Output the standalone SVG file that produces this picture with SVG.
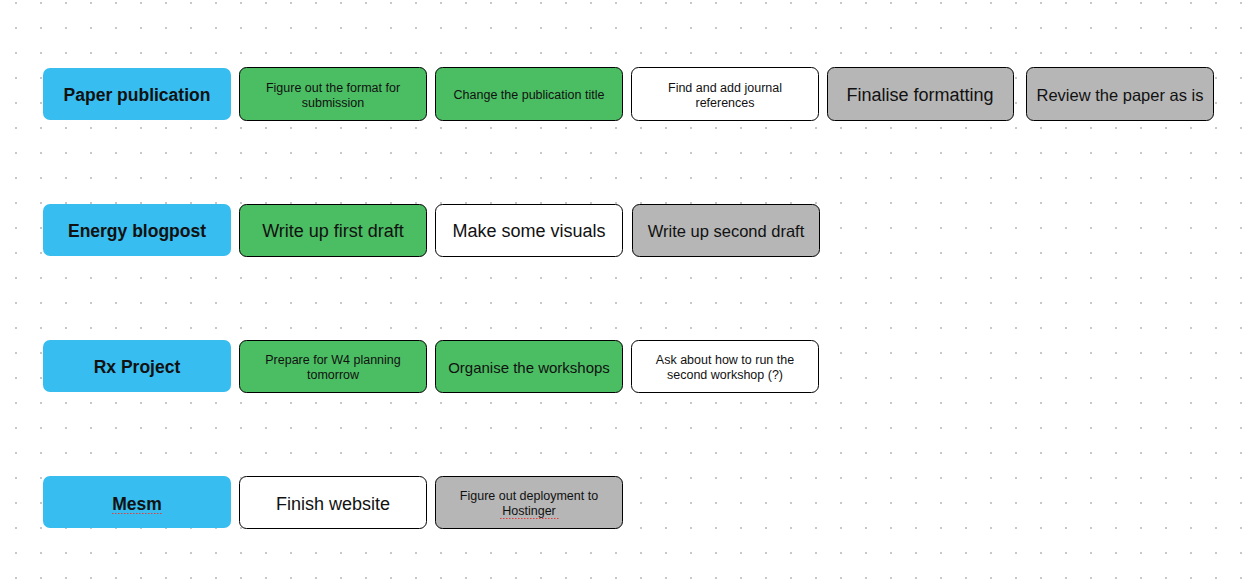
<svg xmlns="http://www.w3.org/2000/svg" width="1253" height="587" viewBox="0 0 1253 587">
<defs>
<pattern id="dots" x="15" y="2" width="25" height="25" patternUnits="userSpaceOnUse">
<rect x="0" y="0" width="2" height="2" fill="#c8c8c8"/>
</pattern>
<style>
.cat{fill:#38bdf0}
.task{stroke:#000;stroke-width:1}
.g{fill:#4bbd62}
.w{fill:#fff}
.y{fill:#b6b6b6}
text{font-family:"Liberation Sans",Arial,sans-serif;fill:#111;text-anchor:middle;dominant-baseline:central}
.ct{font-weight:bold;font-size:17.5px}
.s13{font-size:12.5px}
.s15{font-size:15px}
.s16{font-size:16.5px}
.s18{font-size:18px}
.sq{stroke:#e0403c;stroke-width:1;stroke-dasharray:1.5 1.5;fill:none}
</style>
</defs>
<rect width="1253" height="587" fill="#fff"/>
<rect width="1253" height="587" fill="url(#dots)"/>

<g id="cat-paper"><rect class="cat" x="43" y="68" width="188" height="52" rx="7"/><text class="ct" x="137" y="95">Paper publication</text></g>
<g id="p1"><rect class="task g" x="239.5" y="67.5" width="187" height="53" rx="7"/><text class="s13" x="333" y="87.5">Figure out the format for</text><text class="s13" x="333" y="102.5">submission</text></g>
<g id="p2"><rect class="task g" x="435.5" y="67.5" width="187" height="53" rx="7"/><text class="s13" x="529" y="95">Change the publication title</text></g>
<g id="p3"><rect class="task w" x="631.5" y="67.5" width="187" height="53" rx="7"/><text class="s13" x="725" y="87.5">Find and add journal</text><text class="s13" x="725" y="102.5">references</text></g>
<g id="p4"><rect class="task y" x="827.5" y="67.5" width="186" height="53" rx="7"/><text class="s18" x="920" y="95">Finalise formatting</text></g>
<g id="p5"><rect class="task y" x="1026.5" y="67.5" width="187" height="53" rx="7"/><text class="s16" x="1120" y="95">Review the paper as is</text></g>

<g id="cat-energy"><rect class="cat" x="43" y="204" width="188" height="52" rx="7"/><text class="ct" x="137" y="231">Energy blogpost</text></g>
<g id="e1"><rect class="task g" x="239.5" y="204.5" width="187" height="52" rx="7"/><text class="s18" x="333" y="231">Write up first draft</text></g>
<g id="e2"><rect class="task w" x="435.5" y="204.5" width="187" height="52" rx="7"/><text class="s18" x="529" y="231">Make some visuals</text></g>
<g id="e3"><rect class="task y" x="632.5" y="204.5" width="187" height="52" rx="7"/><text class="s16" x="726" y="231">Write up second draft</text></g>

<g id="cat-rx"><rect class="cat" x="43" y="340" width="188" height="52" rx="7"/><text class="ct" x="137" y="367">Rx Project</text></g>
<g id="r1"><rect class="task g" x="239.5" y="340.5" width="187" height="52" rx="7"/><text class="s13" x="333" y="359.5">Prepare for W4 planning</text><text class="s13" x="333" y="374.5">tomorrow</text></g>
<g id="r2"><rect class="task g" x="435.5" y="340.5" width="187" height="52" rx="7"/><text class="s15" x="529" y="367">Organise the workshops</text></g>
<g id="r3"><rect class="task w" x="631.5" y="340.5" width="187" height="52" rx="7"/><text class="s13" x="725" y="359.5">Ask about how to run the</text><text class="s13" x="725" y="374.5">second workshop (?)</text></g>

<g id="cat-mesm"><rect class="cat" x="43" y="476" width="188" height="52" rx="7"/><text class="ct" x="137" y="503.5">Mesm</text><path class="sq" d="M112 513.5H162"/></g>
<g id="m1"><rect class="task w" x="239.5" y="476.5" width="187" height="52" rx="7"/><text class="s18" x="333" y="503.5">Finish website</text></g>
<g id="m2"><rect class="task y" x="435.5" y="476.5" width="187" height="52" rx="7"/><text class="s13" x="529" y="495.5">Figure out deployment to</text><text class="s13" x="529" y="510.5">Hostinger</text><path class="sq" d="M500 518.5H559"/></g>

<g id="connectors"></g>
</svg>
